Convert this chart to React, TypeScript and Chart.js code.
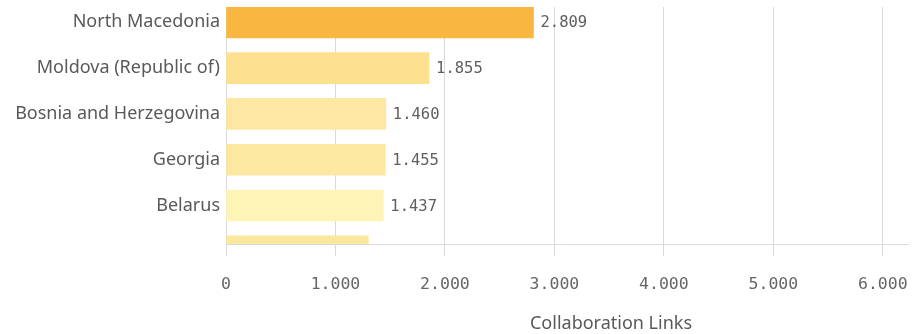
import React, { useEffect, useRef } from "react";
import { Chart, registerables } from "chart.js";

Chart.register(...registerables);

const categories = [
  "North Macedonia",
  "Moldova (Republic of)",
  "Bosnia and Herzegovina",
  "Georgia",
  "Belarus",
  "",
];
const values = [2809, 1855, 1460, 1455, 1437, 1300];
const barColors = ["#f9b640", "#fde190", "#fde7a3", "#fde8a2", "#fef4b6", "#fae89f"];
const xTickValues = [0, 1000, 2000, 3000, 4000, 5000, 6000];
const yTickValues = [0, 1, 2, 3, 4];
const axisTitle = "Collaboration Links";

const fmt = (n: number) => String(n).replace(/\B(?=(\d{3})+(?!\d))/g, ".");

const SANS = "'Noto Sans', sans-serif";
const MONO = "'DejaVu Sans Mono', monospace";

export default function App() {
  const ref = useRef<HTMLCanvasElement | null>(null);

  useEffect(() => {
    if (!ref.current) return;
    const valueLabels = {
      id: "valueLabels",
      afterDatasetsDraw(chart: any) {
        const { ctx, chartArea } = chart;
        const meta = chart.getDatasetMeta(0);
        ctx.save();
        ctx.beginPath();
        ctx.rect(chartArea.left, chartArea.top, chartArea.right - chartArea.left, chartArea.bottom - chartArea.top);
        ctx.clip();
        ctx.font = `15.5px ${MONO}`;
        ctx.fillStyle = "#5f5f5f";
        ctx.textAlign = "left";
        ctx.textBaseline = "middle";
        meta.data.forEach((bar: any, i: number) => {
          ctx.fillText(fmt(values[i]), bar.x + 7, bar.y + 1);
        });
        ctx.restore();
      },
    };
    const titlePlugin = {
      id: "axisTitle",
      afterDraw(chart: any) {
        const { ctx } = chart;
        ctx.save();
        ctx.font = `18px ${SANS}`;
        ctx.fillStyle = "#595959";
        ctx.textAlign = "center";
        ctx.textBaseline = "middle";
        ctx.fillText(axisTitle, 611, 324);
        ctx.restore();
      },
    };

    const chart = new Chart(ref.current, {
      type: "bar",
      data: {
        datasets: [
          {
            data: values.map((v, i) => ({ x: v, y: i })),
            backgroundColor: barColors,
            barThickness: 31,
            borderWidth: 0,
          },
        ],
      },
      plugins: [valueLabels, titlePlugin],
      options: {
        indexAxis: "y",
        animation: false,
        responsive: true,
        maintainAspectRatio: false,
        layout: { padding: { top: 7, right: 14, left: 0, bottom: 0 } },
        plugins: { legend: { display: false }, tooltip: { enabled: false } },
        scales: {
          x: {
            type: "linear",
            bounds: "data",
            min: 0,
            max: 6230,
            offset: false,
            grid: { color: "#d9d9d9", lineWidth: 1, tickLength: 12, drawTicks: true, offset: false },
            border: { display: true, color: "#d9d9d9" },
            afterBuildTicks: (s: any) => {
              s.ticks = xTickValues.map((v) => ({ value: v }));
            },
            ticks: {
              callback: (v: any) => fmt(Number(v)),
              font: { family: MONO, size: 16.5 },
              color: "#666666",
              padding: 19,
              maxRotation: 0,
              autoSkip: false,
            },
            afterFit: (s: any) => {
              s.height = 90;
              s.paddingLeft = 0;
              s.paddingRight = 0;
            },
          },
          y: {
            type: "linear",
            bounds: "data",
            reverse: true,
            offset: false,
            min: -0.334,
            max: 4.84,
            grid: { display: false, drawTicks: false, offset: false },
            border: { display: true, color: "#d9d9d9" },
            afterBuildTicks: (s: any) => {
              s.ticks = yTickValues.map((v) => ({ value: v }));
            },
            ticks: {
              callback: (v: any) => categories[Number(v)] ?? "",
              font: { family: SANS, size: 18 },
              color: "#595959",
              padding: 6,
              autoSkip: false,
            },
            afterFit: (s: any) => {
              s.width = 226;
              s.paddingTop = 0;
              s.paddingBottom = 0;
            },
          },
        },
      },
    } as any);
    return () => chart.destroy();
  }, []);

  return (
    <div style={{ position: "fixed", left: 0, top: 0, width: 922, height: 334, background: "#fff" }}>
      <canvas ref={ref} />
    </div>
  );
}
